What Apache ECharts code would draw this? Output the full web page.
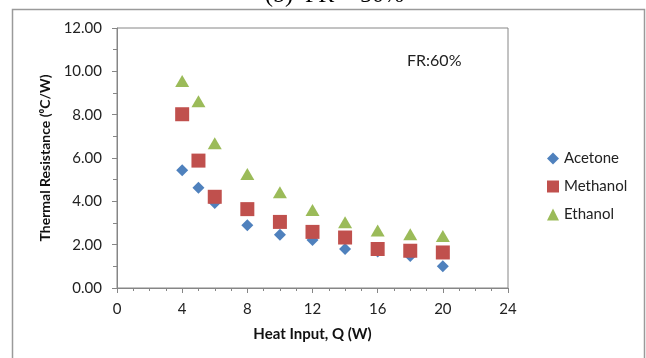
<!DOCTYPE html>
<html>
<head>
    <meta charset="UTF-8">
    <script src="https://cdn.jsdelivr.net/npm/echarts@6/dist/echarts.min.js"></script>
    <title>Thermal Resistance</title>
    <style>
        html, body { margin: 0; padding: 0; background: #fff; }
        #chart { width: 646px; height: 358px; }
    </style>
</head>
<body>
<div id="chart"></div>
<script>
    // heat input (W)
    var heatInput = [4, 5, 6, 8, 10, 12, 14, 16, 18, 20];
    // thermal resistance (°C/W)
    var acetone  = [5.44, 4.63, 3.92, 2.90, 2.46, 2.22, 1.80, 1.68, 1.48, 1.00];
    var methanol = [8.02, 5.88, 4.21, 3.64, 3.05, 2.59, 2.33, 1.80, 1.72, 1.64];
    var ethanol  = [9.55, 8.62, 6.68, 5.26, 4.42, 3.60, 3.03, 2.65, 2.48, 2.40];

    var seriesNames = ['Acetone', 'Methanol', 'Ethanol'];
    var font = 'Lato, "Open Sans", sans-serif';
    var axisColor = '#868686';

    function pairs(vals) {
        return heatInput.map(function (x, i) { return [x, vals[i]]; });
    }

    var chart = echarts.init(document.getElementById('chart'));
    chart.setOption({
        animation: false,
        textStyle: { fontFamily: font },
        graphic: [
            {   // outer chart frame
                type: 'rect',
                shape: { x: 12.5, y: 9.5, width: 632, height: 360 },
                style: { fill: 'none', stroke: '#9a9a9a', lineWidth: 1.5 }
            },
            {   // caption above the chart, partly cut off
                type: 'text',
                left: 265, top: -16,
                style: { text: '(b)  FR = 50%', font: '24px "Liberation Serif", serif', fill: '#000' }
            },
            {
                type: 'text',
                left: 407, top: 53,
                style: { text: 'FR:60%', font: '16px ' + font, fill: '#222' }
            }
        ],
        grid: {
            left: 117, right: 138, top: 28, bottom: 70,
            show: true, borderColor: axisColor, borderWidth: 1
        },
        legend: {
            orient: 'vertical',
            left: 542, top: 146,
            itemGap: 13,
            itemWidth: 12, itemHeight: 12,
            textStyle: { fontSize: 15, color: '#222', fontFamily: font },
            data: seriesNames
        },
        xAxis: {
            type: 'value',
            min: 0, max: 24, interval: 4,
            name: 'Heat Input, Q (W)',
            nameLocation: 'middle', nameGap: 39,
            nameTextStyle: { fontSize: 15, fontWeight: 'bold', color: '#111' },
            axisLine: { lineStyle: { color: axisColor } },
            axisTick: { length: 5, lineStyle: { color: axisColor } },
            minorTick: { show: true, splitNumber: 4, length: 3, lineStyle: { color: axisColor } },
            axisLabel: { fontSize: 15, color: '#222', margin: 14 },
            splitLine: { show: false }
        },
        yAxis: {
            type: 'value',
            min: 0, max: 12, interval: 2,
            name: 'Thermal Resistance (\u2070C/W)',
            nameLocation: 'middle', nameGap: 64,
            nameTextStyle: { fontSize: 14, fontWeight: 'bold', color: '#111' },
            axisLine: { show: true, lineStyle: { color: axisColor } },
            axisTick: { show: true, length: 5, lineStyle: { color: axisColor } },
            minorTick: { show: true, splitNumber: 2, length: 4, lineStyle: { color: axisColor } },
            axisLabel: {
                fontSize: 15, color: '#222', margin: 15,
                formatter: function (v) { return v.toFixed(2); }
            },
            splitLine: { show: false }
        },
        series: [
            {
                name: seriesNames[0], type: 'scatter',
                symbol: 'diamond', symbolSize: 12,
                itemStyle: { color: '#4F81BD', opacity: 1 },
                data: pairs(acetone)
            },
            {
                name: seriesNames[1], type: 'scatter',
                symbol: 'rect', symbolSize: 14,
                itemStyle: { color: '#C0504D', opacity: 1 },
                data: pairs(methanol)
            },
            {
                name: seriesNames[2], type: 'scatter',
                symbol: 'triangle', symbolSize: [14, 12],
                itemStyle: { color: '#9BBB59', opacity: 1 },
                data: pairs(ethanol)
            }
        ]
    });
</script>
</body>
</html>
